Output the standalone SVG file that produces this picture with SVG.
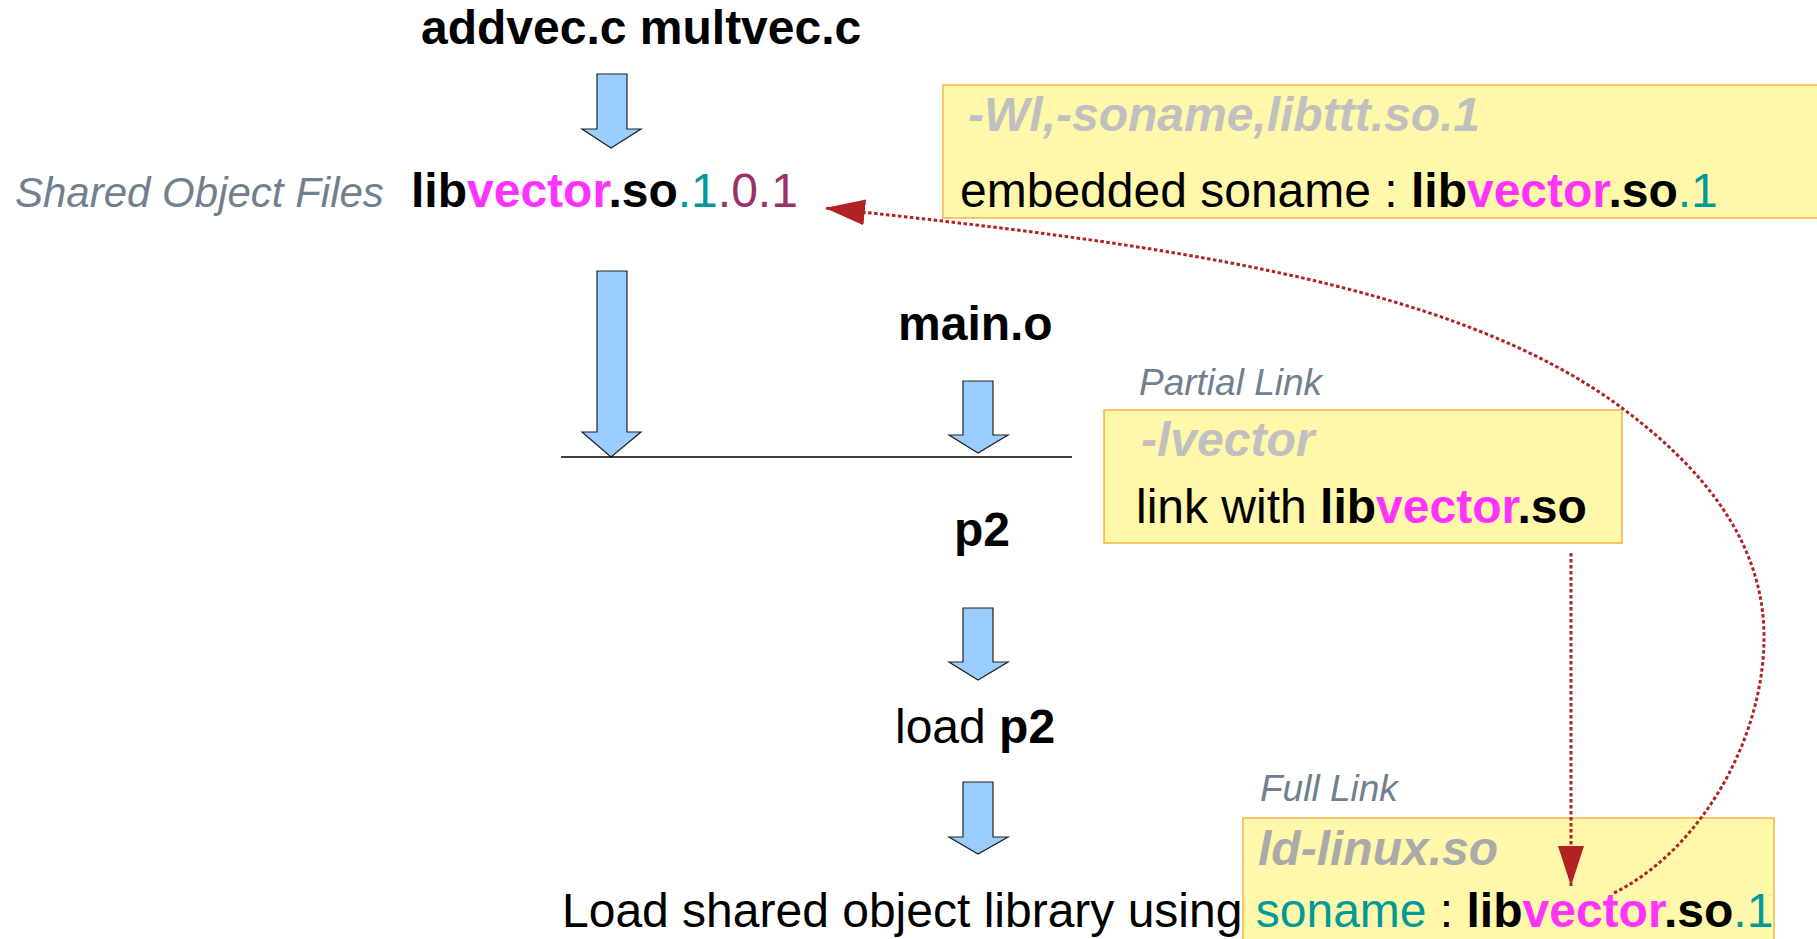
<svg xmlns="http://www.w3.org/2000/svg" width="1817" height="939" viewBox="0 0 1817 939">
<style>
text{font-family:"Liberation Sans",Arial,sans-serif;font-size:48px;fill:#000}
.b{font-weight:bold}
.mag{fill:#ff33ff;font-weight:bold}
.teal{fill:#009999}
.maroon{fill:#993366}
.lbl{font-style:italic;fill:#708090}
.opt{font-style:italic;font-weight:bold;fill:#c0c0c0}
.box{fill:#fff7a9;stroke:#f7b445;stroke-width:1.5}
.barrow{fill:#99ccff;stroke:#222;stroke-width:1.2}
.dot{fill:none;stroke:#b22222;stroke-width:3;stroke-dasharray:3.5 2.5}
</style>
<defs>
<marker id="ah" markerUnits="userSpaceOnUse" markerWidth="42" markerHeight="28" refX="40" refY="13" orient="auto">
<path d="M0,0 L40,13 L0,26 Z" fill="#b22222"/>
</marker>
</defs>

<g id="sources"><text x="421" y="44" class="b">addvec.c multvec.c</text></g>

<g id="arrow1"><path class="barrow" d="M597,74 H627 V129 H641 L611,148 L582,129 H597 Z"/></g>

<g id="sofiles">
<text x="15" y="207" class="lbl" style="font-size:42px">Shared Object Files</text>
<text x="411" y="207"><tspan class="b">lib</tspan><tspan class="mag">vector</tspan><tspan class="b">.so</tspan><tspan class="teal">.1</tspan><tspan class="maroon">.0.1</tspan></text>
</g>

<g id="sonamebox">
<rect class="box" x="943" y="85" width="900" height="133"/>
<text x="968" y="131" class="opt">-Wl,-soname,libttt.so.1</text>
<text x="960" y="207">embedded soname : <tspan class="b">lib</tspan><tspan class="mag">vector</tspan><tspan class="b">.so</tspan><tspan class="teal">.1</tspan></text>
</g>

<g id="arrow2"><path class="barrow" d="M597,271 H627 V432 H641 L611,457 L582,432 H597 Z"/></g>

<g id="maino"><text x="898" y="340" class="b">main.o</text></g>

<g id="arrow3"><path class="barrow" d="M963,381 H993 V435 H1008 L978,453 L949,435 H963 Z"/></g>

<g id="linkline"><line x1="561" y1="457" x2="1072" y2="457" stroke="#000" stroke-width="1.5"/></g>

<g id="partialbox">
<text x="1139" y="395" class="lbl" style="font-size:37px">Partial Link</text>
<rect class="box" x="1104" y="410" width="518" height="133"/>
<text x="1141" y="456" class="opt">-lvector</text>
<text x="1136" y="523">link with <tspan class="b">lib</tspan><tspan class="mag">vector</tspan><tspan class="b">.so</tspan></text>
</g>

<g id="p2"><text x="954" y="546" class="b">p2</text></g>

<g id="arrow4"><path class="barrow" d="M963,608 H993 V662 H1008 L978,680 L949,662 H963 Z"/></g>

<g id="loadp2"><text x="895" y="743">load <tspan class="b">p2</tspan></text></g>

<g id="arrow5"><path class="barrow" d="M963,782 H993 V837 H1008 L978,854 L949,837 H963 Z"/></g>

<g id="fullbox">
<text x="1260" y="801" class="lbl" style="font-size:37px">Full Link</text>
<rect class="box" x="1243" y="818" width="531" height="140"/>
<text x="1258" y="865" class="opt" style="fill:#aaaaaa">ld-linux.so</text>
</g>

<g id="loadlib"><text x="562" y="927">Load shared object library using <tspan class="teal">soname</tspan> : <tspan class="b">lib</tspan><tspan class="mag">vector</tspan><tspan class="b">.so</tspan><tspan class="teal">.1</tspan></text></g>

<g id="connectors">
<path class="dot" d="M1571,553 L1571,886" marker-end="url(#ah)"/>
<path class="dot" d="M1614,893 C1700,850 1764,740 1764,637 C1764,540 1700,466 1622,408 C1450,280 1150,243 825,208" marker-end="url(#ah)"/>
</g>
</svg>
